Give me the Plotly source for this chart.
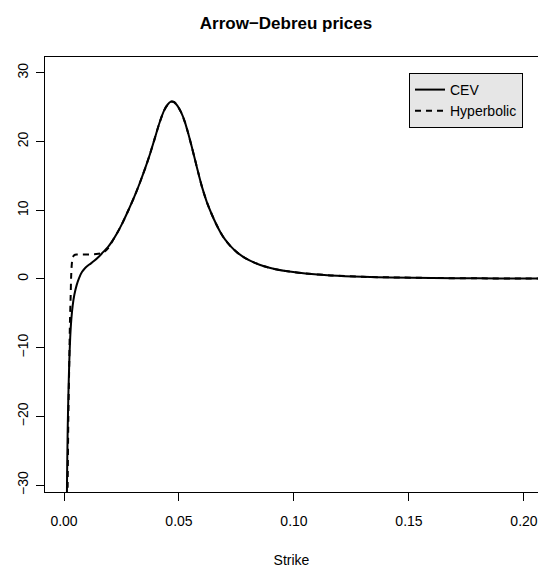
import plotly.graph_objects as go

# ---- data ----
CEV_STRIKE = [0.0011, 0.0013, 0.0016, 0.0019, 0.0023, 0.0027, 0.0032, 0.0038, 0.0045,
              0.0055, 0.0065, 0.0078, 0.0092, 0.0110, 0.0130, 0.0150, 0.0170, 0.0190,
              0.0210, 0.0230, 0.0255, 0.0280, 0.0305, 0.0330, 0.0355, 0.0375, 0.0395,
              0.0415, 0.0435, 0.0450, 0.0465, 0.0478, 0.0492, 0.0510, 0.0525, 0.0540,
              0.0555, 0.0570, 0.0585, 0.0600, 0.0620, 0.0640, 0.0660, 0.0680, 0.0700,
              0.0725, 0.0755, 0.0790, 0.0830, 0.0870, 0.0920, 0.0980, 0.1050, 0.1160,
              0.1300, 0.1420, 0.1600, 0.1800, 0.2000, 0.2100]
CEV_VALUE = [-40.0, -30.0, -22.0, -17.0, -12.0, -8.5, -5.8, -3.8, -2.3,
             -0.9, 0.1, 1.0, 1.6, 2.1, 2.6, 3.2, 3.9, 4.6,
             5.5, 6.6, 8.2, 10.0, 11.9, 14.0, 16.3, 18.3, 20.5,
             22.7, 24.5, 25.35, 25.8, 25.75, 25.25, 24.2, 22.9, 21.2,
             19.3, 17.3, 15.3, 13.4, 11.3, 9.6, 8.1, 6.8, 5.75,
             4.75, 3.8, 3.0, 2.35, 1.85, 1.42, 1.08, 0.8, 0.52,
             0.32, 0.23, 0.14, 0.09, 0.06, 0.05]

HYP_STRIKE = [0.0014, 0.0016, 0.0019, 0.0023, 0.0026, 0.0029, 0.0031, 0.0034, 0.0038,
              0.0044, 0.0055, 0.0080, 0.0110, 0.0140, 0.0160, 0.0175, 0.0190,
              0.0210, 0.0230, 0.0255, 0.0280, 0.0305, 0.0330, 0.0355, 0.0375, 0.0395,
              0.0415, 0.0435, 0.0450, 0.0465, 0.0478, 0.0492, 0.0510, 0.0525, 0.0540,
              0.0555, 0.0570, 0.0585, 0.0600, 0.0620, 0.0640, 0.0660, 0.0680, 0.0700,
              0.0725, 0.0755, 0.0790, 0.0830, 0.0870, 0.0920, 0.0980, 0.1050, 0.1160,
              0.1300, 0.1420, 0.1600, 0.1800, 0.2000, 0.2100]
HYP_VALUE = [-40.0, -30.0, -20.0, -12.0, -6.0, -2.5, 0.3, 2.2, 3.1,
             3.45, 3.55, 3.55, 3.57, 3.62, 3.72, 3.95, 4.4,
             5.5, 6.6, 8.2, 10.0, 11.9, 14.0, 16.3, 18.3, 20.5,
             22.7, 24.5, 25.35, 25.8, 25.75, 25.25, 24.2, 22.9, 21.2,
             19.3, 17.3, 15.3, 13.4, 11.3, 9.6, 8.1, 6.8, 5.75,
             4.75, 3.8, 3.0, 2.35, 1.85, 1.42, 1.08, 0.8, 0.52,
             0.32, 0.23, 0.14, 0.09, 0.06, 0.05]

SERIES_NAMES = ["CEV", "Hyperbolic"]
X_TICKS = [0.00, 0.05, 0.10, 0.15, 0.20]
Y_TICKS = [-30, -20, -10, 0, 10, 20, 30]
TITLE = "Arrow\u2212Debreu prices"
X_LABEL = "Strike"

FONT = "Liberation Sans, Arial, Helvetica, sans-serif"

fig = go.Figure()
fig.add_trace(go.Scatter(x=CEV_STRIKE, y=CEV_VALUE, mode="lines", name=SERIES_NAMES[0],
                         line=dict(color="black", width=2, shape="spline", smoothing=0.8)))
fig.add_trace(go.Scatter(x=HYP_STRIKE, y=HYP_VALUE, mode="lines", name=SERIES_NAMES[1],
                         line=dict(color="black", width=2, dash="6px,5px",
                                   shape="spline", smoothing=0.8)))

fig.update_layout(
    width=538, height=568,
    margin=dict(l=45, r=0, t=57, b=76),
    paper_bgcolor="white", plot_bgcolor="white",
    font=dict(family=FONT, size=14, color="black"),
    title=dict(text=TITLE, x=286 / 538, xref="container", xanchor="center",
               y=1 - 23 / 568, yref="container", yanchor="middle",
               font=dict(family=FONT, size=17, color="black", weight="bold")),
    showlegend=True,
    legend=dict(x=(409 - 45) / 493, y=(492 - 73) / 435, xanchor="left", yanchor="top",
                bgcolor="#e6e6e6", bordercolor="black", borderwidth=1,
                font=dict(family=FONT, size=14, color="black"),
                tracegroupgap=0),
)
fig.update_xaxes(
    range=[-0.00826, 0.2061], tickvals=X_TICKS, tickformat=".2f",
    ticks="outside", ticklen=8, tickwidth=1, tickcolor="black",
    showline=True, linecolor="black", linewidth=1, mirror=True,
    showgrid=False, zeroline=False, ticklabelstandoff=8,
    title=dict(text=X_LABEL, standoff=29, font=dict(size=14)),
)
fig.update_yaxes(
    range=[-31.0, 32.3], tickvals=Y_TICKS, tickangle=-90,
    ticks="outside", ticklen=8, tickwidth=1, tickcolor="black",
    showline=True, linecolor="black", linewidth=1, mirror=False,
    showgrid=False, zeroline=False, ticklabelstandoff=2,
)

fig.write_html("out.html")
